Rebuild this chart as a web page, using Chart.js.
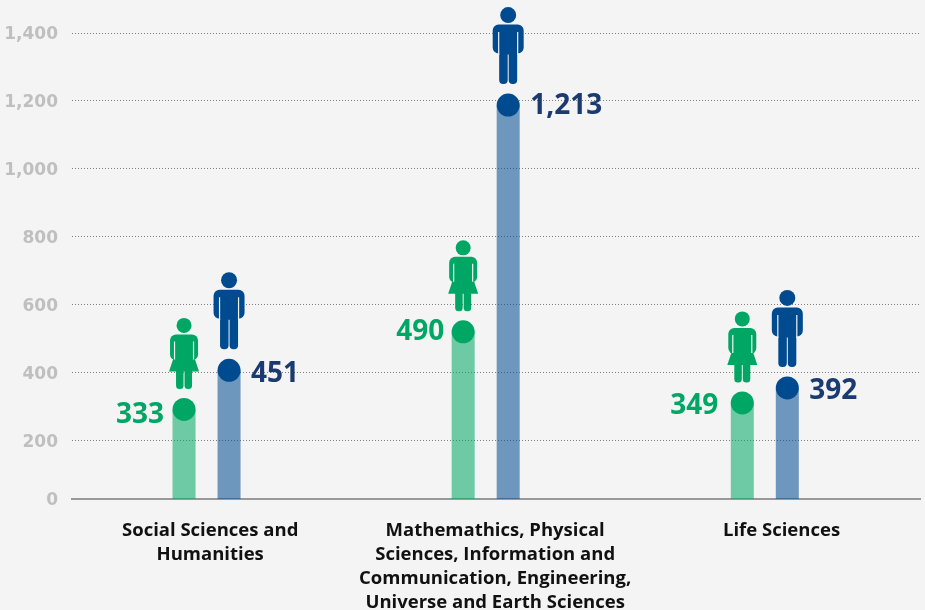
<!DOCTYPE html>
<html>
<head>
<meta charset="utf-8">
<title>Chart</title>
<script src="https://cdn.jsdelivr.net/npm/chart.js@4"></script>
<style>
    html, body { margin: 0; padding: 0; background: #f4f4f4; }
    canvas { display: block; }
</style>
</head>
<body>
<canvas id="chart" width="925" height="610"></canvas>
<script>
const categories = [
    ['Social Sciences and', 'Humanities'],
    ['Mathemathics, Physical', 'Sciences, Information and', 'Communication, Engineering,', 'Universe and Earth Sciences'],
    ['Life Sciences']
];
// printed numbers
const womenLabels = ['333', '490', '349'];
const menLabels = ['451', '1,213', '392'];
// bar heights as read against the gridlines (the picture does not draw them at the printed number)
const womenHeights = [293, 521, 312];
const menHeights = [408, 1188, 356];

const yTickValues = [29.4, 200, 400, 600, 800, 1000, 1200, 1400]; // the "0" line sits above where 0 would fall
const yTickLabels = ['0', '200', '400', '600', '800', '1,000', '1,200', '1,400'];
const xTickValues = [0.013, 1.034, 2.06];

// small nudges for the printed numbers
const womenLabelDx = [1, 2, -3];
const womenLabelDy = [5.5, 0, 3];
const menLabelDy = [4, 1, 3];

const GREEN = '#00a664';
const BLUE = '#004a8f';
const NAVY = '#1a3a70';
const BG = '#f4f4f4';

function drawMan(ctx, x, y) {
    ctx.fillStyle = BLUE;
    ctx.beginPath();
    ctx.arc(x, y - 90, 8, 0, Math.PI * 2);
    ctx.fill();
    ctx.beginPath();
    ctx.roundRect(x - 15.5, y - 80.5, 31, 29, 6);
    ctx.roundRect(x - 9, y - 80.5, 8.5, 59.5, 4);
    ctx.roundRect(x + 0.5, y - 80.5, 8.5, 59.5, 4);
    ctx.rect(x - 9, y - 80.5, 18, 30);
    ctx.fill();
    ctx.strokeStyle = BG;
    ctx.lineWidth = 1.2;
    ctx.beginPath();
    ctx.moveTo(x - 9.5, y - 73);
    ctx.lineTo(x - 9.5, y - 50);
    ctx.moveTo(x + 9.5, y - 73);
    ctx.lineTo(x + 9.5, y - 50);
    ctx.stroke();
}

function drawWoman(ctx, x, y) {
    ctx.fillStyle = GREEN;
    ctx.beginPath();
    ctx.arc(x, y - 84, 7.5, 0, Math.PI * 2);
    ctx.fill();
    ctx.beginPath();
    ctx.roundRect(x - 14, y - 75, 28, 26, 6);
    ctx.fill();
    ctx.beginPath();
    ctx.moveTo(x - 9, y - 56);
    ctx.lineTo(x + 9, y - 56);
    ctx.lineTo(x + 15, y - 38);
    ctx.lineTo(x - 15, y - 38);
    ctx.closePath();
    ctx.fill();
    ctx.beginPath();
    ctx.roundRect(x - 8, y - 42, 7.5, 21.5, 3.5);
    ctx.roundRect(x + 0.5, y - 42, 7.5, 21.5, 3.5);
    ctx.fill();
    ctx.strokeStyle = BG;
    ctx.lineWidth = 1.2;
    ctx.beginPath();
    ctx.moveTo(x - 9.5, y - 68);
    ctx.lineTo(x - 9.5, y - 50);
    ctx.moveTo(x + 9.5, y - 68);
    ctx.lineTo(x + 9.5, y - 50);
    ctx.stroke();
}

// circle, person and number on top of each bar
const barTops = {
    id: 'barTops',
    afterDatasetsDraw(chart) {
        const ctx = chart.ctx;
        ctx.save();
        ctx.font = 'bold 28px "Open Sans"';
        ctx.textBaseline = 'middle';
        chart.getDatasetMeta(0).data.forEach((bar, i) => {
            ctx.fillStyle = GREEN;
            ctx.beginPath();
            ctx.arc(bar.x, bar.y, 11.5, 0, Math.PI * 2);
            ctx.fill();
            drawWoman(ctx, bar.x, bar.y);
            ctx.fillStyle = GREEN;
            ctx.textAlign = 'right';
            ctx.fillText(womenLabels[i], bar.x - 21 + womenLabelDx[i], bar.y + womenLabelDy[i]);
        });
        chart.getDatasetMeta(1).data.forEach((bar, i) => {
            ctx.fillStyle = BLUE;
            ctx.beginPath();
            ctx.arc(bar.x, bar.y, 11.5, 0, Math.PI * 2);
            ctx.fill();
            drawMan(ctx, bar.x, bar.y);
            ctx.fillStyle = NAVY;
            ctx.textAlign = 'left';
            ctx.fillText(menLabels[i], bar.x + 22, bar.y + menLabelDy[i]);
        });
        ctx.restore();
    }
};

new Chart(document.getElementById('chart'), {
    type: 'bar',
    data: {
        datasets: [
            {
                label: 'Women',
                data: womenHeights.map((v, i) => ({ x: i, y: v })),
                backgroundColor: 'rgba(0, 166, 100, 0.55)'
            },
            {
                label: 'Men',
                data: menHeights.map((v, i) => ({ x: i, y: v })),
                backgroundColor: 'rgba(0, 74, 143, 0.55)'
            }
        ]
    },
    options: {
        responsive: false,
        animation: false,
        categoryPercentage: 0.3226,
        barPercentage: 0.511,
        layout: { padding: { top: 33, right: 5 } },
        plugins: {
            legend: { display: false },
            tooltip: { enabled: false }
        },
        scales: {
            x: {
                type: 'linear',
                offset: false,
                min: -0.482,
                max: 2.556,
                grid: { display: false },
                border: { color: '#999999', width: 2 },
                afterBuildTicks: axis => { axis.ticks = xTickValues.map(v => ({ value: v })); },
                afterFit: axis => { axis.height = 111; },
                ticks: {
                    autoSkip: false,
                    maxRotation: 0,
                    minRotation: 0,
                    padding: 12,
                    color: '#111111',
                    font: { family: '"Open Sans"', weight: 'bold', size: 18.5, lineHeight: 1.3 },
                    callback: (value, i) => categories[i]
                }
            },
            y: {
                min: yTickValues[0],
                max: 1400,
                border: { display: false, dash: [1, 2] },
                grid: {
                    drawTicks: false,
                    color: c => (c.index === 0 ? 'transparent' : '#808080')
                },
                afterBuildTicks: axis => { axis.ticks = yTickValues.map(v => ({ value: v })); },
                afterFit: axis => { axis.width = 72; },
                ticks: {
                    padding: 14,
                    labelOffset: 1.5,
                    color: '#bfbfbf',
                    font: { family: '"DejaVu Sans"', weight: 'bold', size: 17 },
                    callback: (value, i) => yTickLabels[i]
                }
            }
        }
    },
    plugins: [barTops]
});
</script>
</body>
</html>
